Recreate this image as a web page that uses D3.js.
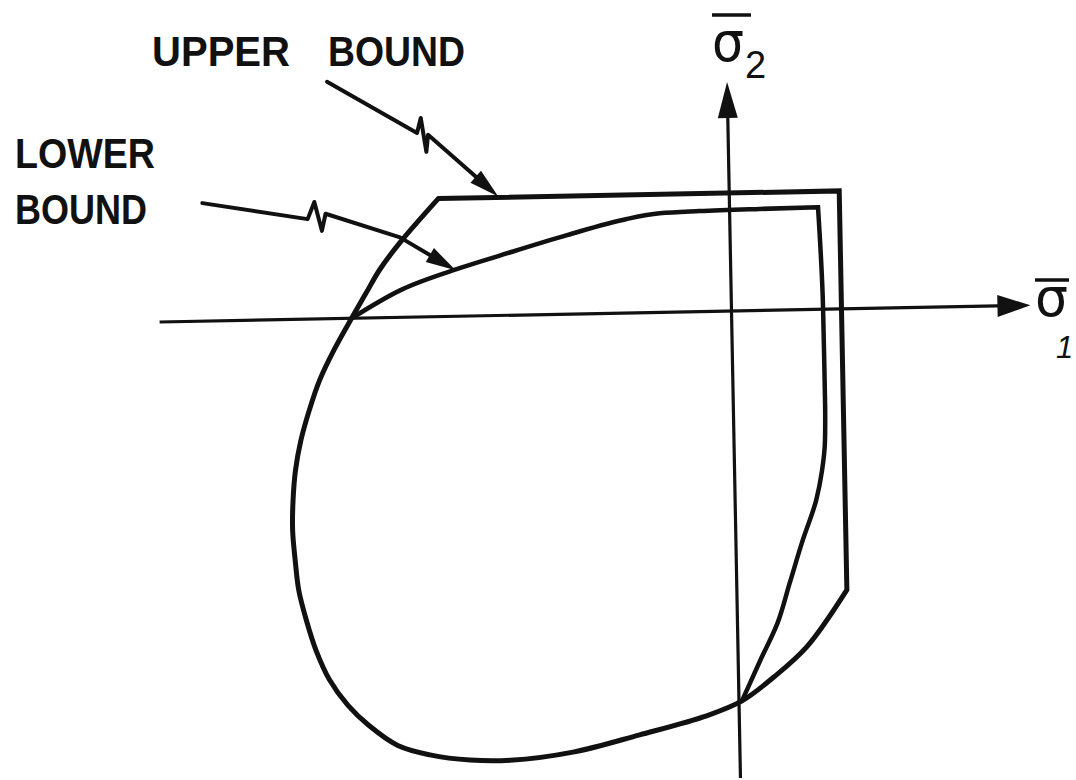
<!DOCTYPE html>
<html>
<head>
<meta charset="utf-8">
<script src="https://cdn.jsdelivr.net/npm/d3@7/dist/d3.min.js"></script>
<style>
html,body{margin:0;padding:0;background:#fff;}
svg{display:block;}
</style>
</head>
<body>
<svg id="chart" width="1076" height="780"></svg>
<script>
// ---- data (normalized stress units, sigma1 / sigma2) ----
const sigma1Range = [-5.72, 2.99];
const sigma2Range = [-4.67, 2.29];

// upper bound: straight top and right edges
const upperFlatEdges = [[-2.91, 1.18], [1.10, 1.18], [1.10, -2.81]];
// upper bound: curved part from lower-right corner to meeting point on sigma2 axis
const upperRightCurve = [[1.10, -2.81], [0.69, -3.37], [0.35, -3.67], [0.03, -3.90]];
// curve shared by both bounds: from meeting point, around the bottom and left, to sigma1 axis
const sharedCurve = [
  [0.03, -3.90], [-0.32, -4.04], [-1.00, -4.22], [-1.67, -4.38], [-2.30, -4.45],
  [-2.70, -4.44], [-3.10, -4.38], [-3.42, -4.28], [-3.71, -4.07], [-3.91, -3.87],
  [-4.09, -3.61], [-4.22, -3.31], [-4.31, -3.01], [-4.38, -2.71], [-4.41, -2.41],
  [-4.43, -2.11], [-4.42, -1.81], [-4.39, -1.51], [-4.33, -1.21], [-4.24, -0.91],
  [-4.13, -0.61], [-3.98, -0.31], [-3.80, 0.00]
];
// upper bound: left edge from sigma1 axis up to top-left corner
const upperLeftCurve = [[-3.80, 0.00], [-3.65, 0.25], [-3.51, 0.48], [-3.30, 0.75], [-2.91, 1.18]];
// lower bound: top curve and right side
const lowerTopCurve = [
  [-3.80, 0.00], [-3.31, 0.27], [-2.71, 0.48], [-2.30, 0.60], [-1.63, 0.79],
  [-1.03, 0.94], [-0.70, 0.99], [-0.30, 1.005], [0.30, 1.015], [0.885, 1.02]
];
const lowerRightCurve = [
  [0.885, 1.02], [0.916, 0.01], [0.918, -0.91], [0.91, -1.31], [0.875, -1.61],
  [0.81, -1.91], [0.67, -2.30], [0.53, -2.73], [0.40, -3.13], [0.22, -3.50], [0.03, -3.90]
];
// annotation leaders (with break symbol)
const upperLeader = [[-4.00, 2.37], [-3.11, 1.84], [-3.07, 1.99], [-3.02, 1.65], [-3.00, 1.82], [-2.31, 1.19]];
const lowerLeader = [[-5.27, 1.18], [-4.22, 1.00], [-4.15, 1.17], [-4.08, 0.88], [-4.04, 1.05], [-3.30, 0.80], [-2.75, 0.46]];

// labels
const upperLabelWords = ["UPPER", "BOUND"];
const lowerLabelLines = ["LOWER", "BOUND"];
const axisSymbol = "σ";
const axisSubscripts = ["1", "2"];

// ---- drawing ----
const svg = d3.select("#chart");
svg.append("rect").attr("width", 1076).attr("height", 780).attr("fill", "#fff");

const unit = 100;
const x = d3.scaleLinear().domain(sigma1Range).range(sigma1Range.map(v => v * unit));
const y = d3.scaleLinear().domain(sigma2Range).range(sigma2Range.map(v => -v * unit));

// the scanned figure is slightly rotated
const g = svg.append("g").attr("transform", "translate(731.5,311) rotate(-1.1)");

const lin = d3.line().x(d => x(d[0])).y(d => y(d[1]));
const smooth = d3.line().x(d => x(d[0])).y(d => y(d[1])).curve(d3.curveCatmullRom.alpha(0.5));
const smoothX = d3.line().x(d => x(d[0])).y(d => y(d[1])).curve(d3.curveMonotoneX);
const smoothY = d3.line().x(d => x(d[0])).y(d => y(d[1])).curve(d3.curveMonotoneY);
const joinPaths = (...parts) => parts.map((p, i) => i === 0 ? p : p.replace(/^M/, "L")).join("");

const ink = "#111";

// upper bound
const upperCurve = upperRightCurve.concat(sharedCurve.slice(1), upperLeftCurve.slice(1));
g.append("path")
  .attr("d", joinPaths(lin(upperFlatEdges), smooth(upperCurve)) + "Z")
  .attr("fill", "none").attr("stroke", ink).attr("stroke-width", 5)
  .attr("stroke-linejoin", "miter");

// lower bound
g.append("path")
  .attr("d", joinPaths(smoothX(lowerTopCurve), smoothY(lowerRightCurve)))
  .attr("fill", "none").attr("stroke", ink).attr("stroke-width", 4.5)
  .attr("stroke-linejoin", "miter").attr("stroke-linecap", "round");

function arrowHead(tip, from, len, hw) {
  const dx = tip[0] - from[0], dy = tip[1] - from[1];
  const L = Math.hypot(dx, dy), ux = dx / L, uy = dy / L;
  const bx = tip[0] - ux * len, by = tip[1] - uy * len;
  return { poly: [[tip[0], tip[1]], [bx - uy * hw, by + ux * hw], [bx + uy * hw, by - ux * hw]], base: [tip[0] - ux * len * 0.6, tip[1] - uy * len * 0.6] };
}
const px = d => [x(d[0]), y(d[1])];

// axes
const hStart = px([sigma1Range[0], 0]), hTip = px([sigma1Range[1], 0]);
const vStart = px([0, sigma2Range[0]]), vTip = px([0, sigma2Range[1]]);
const hHead = arrowHead(hTip, hStart, 33, 11);
const vHead = arrowHead(vTip, vStart, 36, 10);
g.append("line").attr("x1", hStart[0]).attr("y1", hStart[1]).attr("x2", hHead.base[0]).attr("y2", hHead.base[1])
  .attr("stroke", ink).attr("stroke-width", 3.2);
g.append("line").attr("x1", vStart[0]).attr("y1", vStart[1]).attr("x2", vHead.base[0]).attr("y2", vHead.base[1])
  .attr("stroke", ink).attr("stroke-width", 3.2);
[hHead, vHead].forEach(h => g.append("polygon").attr("points", h.poly.map(p => p.join(",")).join(" ")).attr("fill", ink));

// leaders
[upperLeader, lowerLeader].forEach(ld => {
  const pts = ld.map(px);
  const head = arrowHead(pts[pts.length - 1], pts[pts.length - 2], 30, 8);
  const linePts = pts.slice(0, -1).concat([head.base]);
  g.append("path").attr("d", d3.line()(linePts))
    .attr("fill", "none").attr("stroke", ink).attr("stroke-width", 4)
    .attr("stroke-linejoin", "round").attr("stroke-linecap", "round");
  g.append("polygon").attr("points", head.poly.map(p => p.join(",")).join(" ")).attr("fill", ink);
});

// text labels
const labelFont = "'Liberation Sans', Arial, sans-serif";
const tl = svg.append("g").attr("fill", ink).attr("font-family", labelFont).attr("font-weight", "bold").attr("font-size", 43);
const upperPos = [[152, 66, 138], [328, 66, 137]];
upperLabelWords.forEach((w, i) => tl.append("text").attr("x", upperPos[i][0]).attr("y", upperPos[i][1])
  .attr("textLength", upperPos[i][2]).attr("lengthAdjust", "spacingAndGlyphs").text(w));
const lowerPos = [[15, 168, 140], [15, 224, 132]];
lowerLabelLines.forEach((w, i) => tl.append("text").attr("x", lowerPos[i][0]).attr("y", lowerPos[i][1])
  .attr("textLength", lowerPos[i][2]).attr("lengthAdjust", "spacingAndGlyphs").text(w));

// axis symbols with overbars; subscripts placed just clear of the symbol
const sym = svg.append("g").attr("fill", ink);
// sigma 2 (vertical axis)
sym.append("text").attr("x", 712).attr("y", 61).attr("font-size", 56)
  .attr("font-family", "'DejaVu Sans', sans-serif")
  .attr("textLength", 32).attr("lengthAdjust", "spacingAndGlyphs").text(axisSymbol);
sym.append("text").attr("x", 745).attr("y", 78).attr("font-size", 38)
  .attr("font-family", labelFont).text(axisSubscripts[1]);
svg.append("line").attr("x1", 712).attr("y1", 15).attr("x2", 751).attr("y2", 15).attr("stroke", ink).attr("stroke-width", 3.5);

// sigma 1 (horizontal axis)
sym.append("text").attr("x", 1035).attr("y", 316).attr("font-size", 54)
  .attr("font-family", "'DejaVu Sans', sans-serif")
  .attr("textLength", 33).attr("lengthAdjust", "spacingAndGlyphs").text(axisSymbol);
sym.append("text").attr("x", 1056).attr("y", 358).attr("font-size", 31).attr("font-style", "italic")
  .attr("font-family", labelFont).text(axisSubscripts[0]);
svg.append("line").attr("x1", 1035).attr("y1", 280).attr("x2", 1069).attr("y2", 280).attr("stroke", ink).attr("stroke-width", 3.5);
</script>
</body>
</html>
